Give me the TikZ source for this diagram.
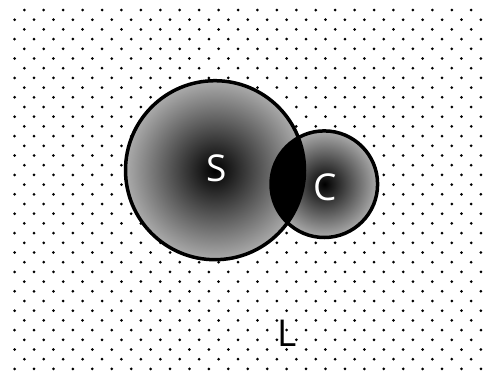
\documentclass[tikz,border=0pt]{standalone}
\usepackage{fontspec}
\setmainfont{Open Sans}
\usetikzlibrary{positioning}
\pgfdeclareradialshading{greyball}{\pgfpoint{0bp}{0bp}}{color(0bp)=(black); color(25bp)=(black!33); color(50bp)=(black!33)}

\begin{document}
\begin{tikzpicture}[
    x=1pt, y=-1pt,
    dot/.style={fill=black},
    disc/.style={shading=greyball},
    rim/.style={draw=black, line width=3.5pt},
    letter/.style={font=\fontsize{37}{40}\selectfont, inner sep=0pt}
]
    \useasboundingbox (0,0) rectangle (485,373);

    % ==================== DOTTED BACKGROUND ====================
    \foreach \i in {0,...,37} {
        \pgfmathsetmacro{\yy}{10+9.7*\i}
        \pgfmathsetmacro{\xo}{mod(\i,2)==0 ? 24.3 : 14.6}
        \pgfmathtruncatemacro{\nj}{mod(\i,2)==0 ? 23 : 24}
        \foreach \j in {0,...,\nj} {
            \fill[dot] ({\xo+19.43*\j},\yy) circle (1.5);
        }
    }

    % ==================== DISCS ====================
    \coordinate (s0) at (215,170.2);
    \coordinate (c0) at (324.3,184.2);

    % Shaded discs
    \shade[disc] (s0) circle (89.5);
    \shade[disc] (c0) circle (53.3);

    % Overlap
    \begin{scope}
        \clip (s0) circle (89.5);
        \fill[black] (c0) circle (53.3);
    \end{scope}

    % Outlines
    \draw[rim] (s0) circle (89.5);
    \draw[rim] (c0) circle (53.3);

    % ==================== LETTERS ====================
    \node[letter, white] (S) at (217,168) {S};
    \node[letter, white] (C) at (325,187) {C};
    \node[letter, black] (L) at (287,333) {L};
\end{tikzpicture}
\end{document}
